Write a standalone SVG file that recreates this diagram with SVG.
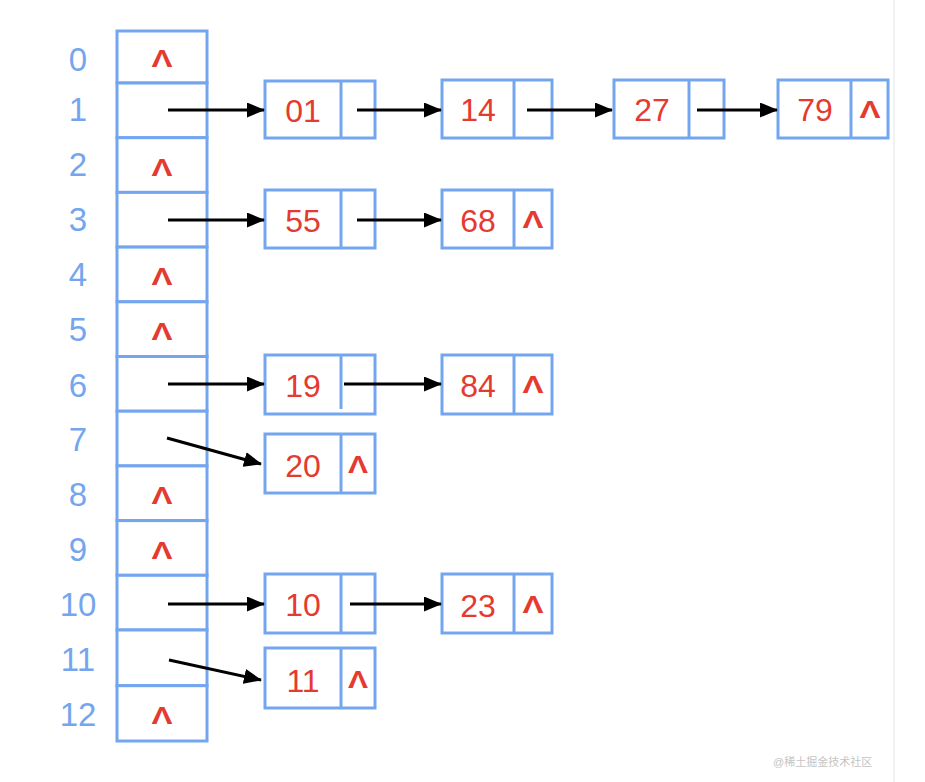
<svg xmlns="http://www.w3.org/2000/svg" width="925" height="782" viewBox="0 0 925 782">
<style>
.cell{fill:#fff;stroke:#74a6ef;stroke-width:3}
.idx{font-family:"Liberation Sans",Arial,sans-serif;font-size:33px;fill:#74a6ef;text-anchor:middle}
.val{font-family:"Liberation Sans",Arial,sans-serif;font-size:32px;fill:#e53a2f;text-anchor:middle}
.nil{font-family:"Liberation Sans",Arial,sans-serif;font-size:24px;font-weight:bold;fill:#e53a2f;text-anchor:middle}
.div{stroke:#74a6ef;stroke-width:3}
.conn line{stroke:#000;stroke-width:3}
.wm{font-family:"Liberation Sans","Noto Sans CJK SC",sans-serif;font-size:11px;fill:#c4c4c4}
</style>
<defs>
<marker id="ah" viewBox="0 0 18 15" refX="17" refY="7.5" markerWidth="18" markerHeight="15" markerUnits="userSpaceOnUse" orient="auto">
<path d="M0,0 L18,7.5 L0,15 z" fill="#000"/>
</marker>
</defs>
<rect width="925" height="782" fill="#fff"/>
<line x1="894" y1="0" x2="894" y2="782" stroke="#eeeeee" stroke-width="1.5"/>
<g id="indices">
<text class="idx" x="78" y="71">0</text>
<text class="idx" x="78" y="121">1</text>
<text class="idx" x="78" y="176">2</text>
<text class="idx" x="78" y="231">3</text>
<text class="idx" x="78" y="286">4</text>
<text class="idx" x="78" y="341">5</text>
<text class="idx" x="78" y="397">6</text>
<text class="idx" x="78" y="451">7</text>
<text class="idx" x="78" y="506">8</text>
<text class="idx" x="78" y="561">9</text>
<text class="idx" x="78" y="616">10</text>
<text class="idx" x="78" y="671">11</text>
<text class="idx" x="78" y="726">12</text>
</g>
<g id="table">
<rect class="cell" x="117" y="31" width="90" height="52"/>
<rect class="cell" x="117" y="83" width="90" height="54.7"/>
<rect class="cell" x="117" y="137.7" width="90" height="54.7"/>
<rect class="cell" x="117" y="192.4" width="90" height="54.7"/>
<rect class="cell" x="117" y="247.1" width="90" height="54.7"/>
<rect class="cell" x="117" y="301.8" width="90" height="54.7"/>
<rect class="cell" x="117" y="356.5" width="90" height="54.7"/>
<rect class="cell" x="117" y="411.2" width="90" height="54.7"/>
<rect class="cell" x="117" y="465.9" width="90" height="54.7"/>
<rect class="cell" x="117" y="520.6" width="90" height="54.7"/>
<rect class="cell" x="117" y="575.3" width="90" height="54.7"/>
<rect class="cell" x="117" y="630" width="90" height="55.7"/>
<rect class="cell" x="117" y="685.7" width="90" height="55.3"/>
<text class="nil" x="162" y="67" textLength="21" lengthAdjust="spacingAndGlyphs">Λ</text>
<text class="nil" x="162" y="176" textLength="21" lengthAdjust="spacingAndGlyphs">Λ</text>
<text class="nil" x="162" y="285" textLength="21" lengthAdjust="spacingAndGlyphs">Λ</text>
<text class="nil" x="162" y="340" textLength="21" lengthAdjust="spacingAndGlyphs">Λ</text>
<text class="nil" x="162" y="504" textLength="21" lengthAdjust="spacingAndGlyphs">Λ</text>
<text class="nil" x="162" y="559" textLength="21" lengthAdjust="spacingAndGlyphs">Λ</text>
<text class="nil" x="162" y="724" textLength="21" lengthAdjust="spacingAndGlyphs">Λ</text>
</g>
<g id="n01"><rect class="cell" x="265" y="81" width="110" height="57"/><line class="div" x1="341" y1="81" x2="341" y2="138"/><text class="val" x="303" y="122">01</text></g>
<g id="n14"><rect class="cell" x="442" y="80" width="110" height="58"/><line class="div" x1="514" y1="80" x2="514" y2="138"/><text class="val" x="478" y="121">14</text></g>
<g id="n27"><rect class="cell" x="614" y="80" width="110" height="58"/><line class="div" x1="689" y1="80" x2="689" y2="138"/><text class="val" x="652" y="121">27</text></g>
<g id="n79"><rect class="cell" x="778" y="80" width="110" height="58"/><line class="div" x1="851" y1="80" x2="851" y2="138"/><text class="val" x="815" y="121">79</text><text class="nil" x="870" y="118" textLength="21" lengthAdjust="spacingAndGlyphs">Λ</text></g>
<g id="n55"><rect class="cell" x="265" y="190" width="110" height="58"/><line class="div" x1="341" y1="190" x2="341" y2="248"/><text class="val" x="303" y="232">55</text></g>
<g id="n68"><rect class="cell" x="442" y="190" width="110" height="58"/><line class="div" x1="514" y1="190" x2="514" y2="248"/><text class="val" x="478" y="232">68</text><text class="nil" x="533" y="228" textLength="21" lengthAdjust="spacingAndGlyphs">Λ</text></g>
<g id="n19"><rect class="cell" x="265" y="355" width="110" height="59"/><line class="div" x1="341" y1="355" x2="341" y2="409"/><text class="val" x="303" y="397">19</text></g>
<g id="n84"><rect class="cell" x="442" y="355" width="110" height="59"/><line class="div" x1="514" y1="355" x2="514" y2="414"/><text class="val" x="478" y="397">84</text><text class="nil" x="533" y="393" textLength="21" lengthAdjust="spacingAndGlyphs">Λ</text></g>
<g id="n20"><rect class="cell" x="265" y="434" width="110" height="59"/><line class="div" x1="341" y1="434" x2="341" y2="493"/><text class="val" x="303" y="477">20</text><text class="nil" x="358" y="473" textLength="20" lengthAdjust="spacingAndGlyphs">Λ</text></g>
<g id="n10"><rect class="cell" x="265" y="574" width="110" height="59"/><line class="div" x1="341" y1="574" x2="341" y2="633"/><text class="val" x="303" y="616">10</text></g>
<g id="n23"><rect class="cell" x="442" y="574" width="110" height="59"/><line class="div" x1="514" y1="574" x2="514" y2="633"/><text class="val" x="478" y="617">23</text><text class="nil" x="533" y="613" textLength="21" lengthAdjust="spacingAndGlyphs">Λ</text></g>
<g id="n11"><rect class="cell" x="265" y="648" width="110" height="60"/><line class="div" x1="341" y1="648" x2="341" y2="708"/><text class="val" x="303" y="692">11</text><text class="nil" x="358" y="688" textLength="20" lengthAdjust="spacingAndGlyphs">Λ</text></g>
<g id="connectors" class="conn">
<line x1="168" y1="110" x2="264" y2="110" marker-end="url(#ah)"/>
<line x1="357" y1="110" x2="441" y2="110" marker-end="url(#ah)"/>
<line x1="527" y1="110" x2="612" y2="110" marker-end="url(#ah)"/>
<line x1="697" y1="110" x2="777" y2="110" marker-end="url(#ah)"/>
<line x1="168" y1="220" x2="264" y2="220" marker-end="url(#ah)"/>
<line x1="357" y1="220" x2="441" y2="220" marker-end="url(#ah)"/>
<line x1="168" y1="384" x2="264" y2="384" marker-end="url(#ah)"/>
<line x1="344" y1="384" x2="441" y2="384" marker-end="url(#ah)"/>
<line x1="167" y1="438" x2="261" y2="464" marker-end="url(#ah)"/>
<line x1="168" y1="604" x2="264" y2="604" marker-end="url(#ah)"/>
<line x1="350" y1="604" x2="441" y2="604" marker-end="url(#ah)"/>
<line x1="169" y1="660" x2="261" y2="680" marker-end="url(#ah)"/>
</g>
<text class="wm" x="773" y="766">@稀土掘金技术社区</text>
</svg>
